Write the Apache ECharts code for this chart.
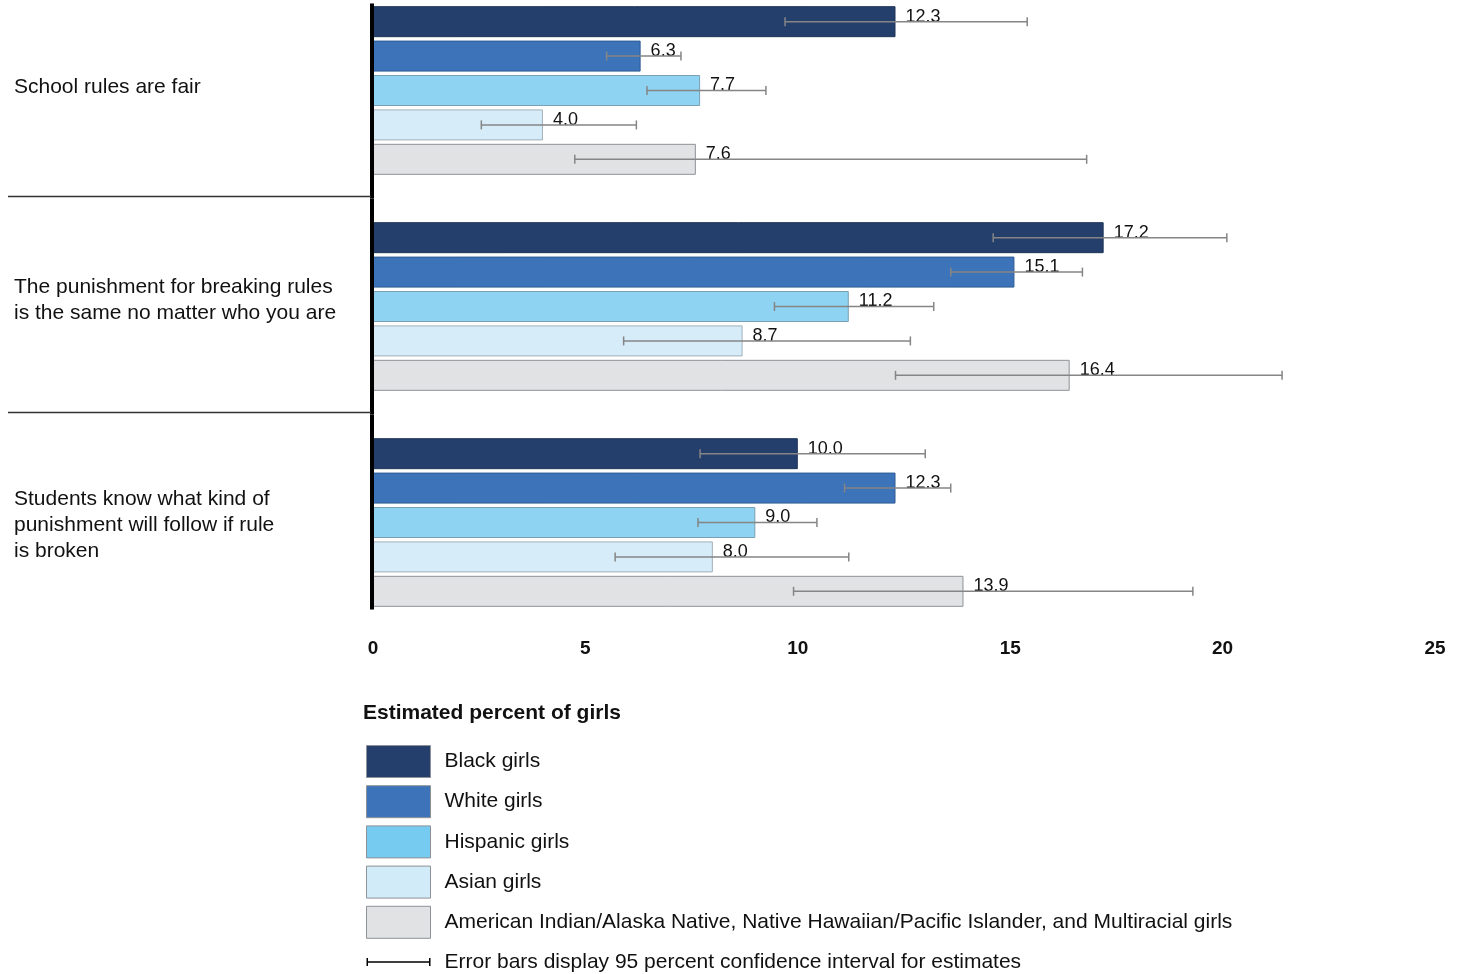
<!DOCTYPE html>
<html>
<head>
<meta charset="utf-8">
<script src="https://cdn.jsdelivr.net/npm/echarts@6/dist/echarts.min.js"></script>
<style>
html,body{margin:0;padding:0;background:#fff;}
#chart{width:1465px;height:974px;}
</style>
</head>
<body>
<div id="chart"></div>
<script>
// ---- data ----
var categories = [
  'School rules are fair',
  'The punishment for breaking rules\nis the same no matter who you are',
  'Students know what kind of\npunishment will follow if rule\nis broken'
];
var seriesNames = [
  'Black girls',
  'White girls',
  'Hispanic girls',
  'Asian girls',
  'American Indian/Alaska Native, Native Hawaiian/Pacific Islander, and Multiracial girls'
];
var blackGirls    = [12.3, 17.2, 10.0];
var whiteGirls    = [6.3, 15.1, 12.3];
var hispanicGirls = [7.7, 11.2, 9.0];
var asianGirls    = [4.0, 8.7, 8.0];
var otherGirls    = [7.6, 16.4, 13.9];

var blackLow    = [9.7, 14.6, 7.7];
var blackHigh   = [15.4, 20.1, 13.0];
var whiteLow    = [5.5, 13.6, 11.1];
var whiteHigh   = [7.25, 16.7, 13.6];
var hispanicLow = [6.45, 9.45, 7.65];
var hispanicHigh= [9.25, 13.2, 10.45];
var asianLow    = [2.55, 5.9, 5.7];
var asianHigh   = [6.2, 12.65, 11.2];
var otherLow    = [4.75, 12.3, 9.9];
var otherHigh   = [16.8, 21.4, 19.3];

var xTicks = [0, 5, 10, 15, 20, 25];
var legendTitle = 'Estimated percent of girls';
var errorBarName = 'Error bars display 95 percent confidence interval for estimates';

// ---- styles ----
var FONT = "'Liberation Sans', Arial, sans-serif";
var barColors    = ['#243F6B', '#3C73B9', '#8ED3F2', '#D6EDF9', '#E1E2E4'];
var legendColors = ['#243F6B', '#3C73B9', '#75CCF0', '#D2EBF8', '#E1E2E4'];
var borderColors = ['#1E3459', '#2F5C96', '#7A9FB3', '#A0AEB8', '#8E9196'];
var labelNudge = [-3.5, -6.5, 3];
var LABEL_X = 14;
var BAR_W = 31, BAR_GAP = 0.11;
var PITCH = BAR_W * (1 + BAR_GAP);

var values = [blackGirls, whiteGirls, hispanicGirls, asianGirls, otherGirls];
var lows   = [blackLow, whiteLow, hispanicLow, asianLow, otherLow];
var highs  = [blackHigh, whiteHigh, hispanicHigh, asianHigh, otherHigh];

var errData = [];
for (var c = 0; c < categories.length; c++) {
  for (var s = 0; s < values.length; s++) {
    errData.push([c, s, lows[s][c], highs[s][c]]);
  }
}

var series = [];
for (var i = 0; i < values.length; i++) {
  series.push({
    name: seriesNames[i],
    type: 'bar',
    data: values[i],
    barWidth: BAR_W,
    barGap: (BAR_GAP * 100) + '%',
    clip: false,
    itemStyle: { color: barColors[i], borderColor: borderColors[i], borderWidth: 1 },
    label: {
      show: true, position: 'right', distance: 10, offset: [0, -5],
      formatter: function (p) { return p.value.toFixed(1); },
      fontFamily: FONT, fontSize: 18, color: '#111'
    },
    z: 2
  });
}

// error bars
series.push({
  name: errorBarName,
  type: 'custom',
  data: errData,
  encode: { x: [2, 3], y: 0 },
  z: 5,
  clip: false,
  itemStyle: { color: '#000' },
  renderItem: function (params, api) {
    var cat = api.value(0), race = api.value(1), lo = api.value(2), hi = api.value(3);
    var p1 = api.coord([lo, cat]);
    var p2 = api.coord([hi, cat]);
    var y = p1[1] + (race - 2) * PITCH;
    var st = { stroke: '#858585', lineWidth: 1.5 };
    return {
      type: 'group',
      children: [
        { type: 'line', shape: { x1: p1[0], y1: y, x2: p2[0], y2: y }, style: st },
        { type: 'line', shape: { x1: p1[0], y1: y - 4.5, x2: p1[0], y2: y + 4.5 }, style: st },
        { type: 'line', shape: { x1: p2[0], y1: y - 4.5, x2: p2[0], y2: y + 4.5 }, style: st }
      ]
    };
  }
});

// axis line, group separators and category labels
series.push({
  name: '__axis',
  type: 'custom',
  data: categories.map(function (_, k) { return [0, k]; }),
  encode: { x: 0, y: 1 },
  z: 6,
  silent: true,
  clip: false,
  renderItem: function (params, api) {
    var k = api.value(1);
    var p = api.coord([0, k]);
    var band = api.size([0, 1])[1];
    var half = 2.5 * PITCH;
    var n = categories.length;
    var y1 = k === 0 ? p[1] - half - 1 : p[1] - band / 2;
    var y2 = k === n - 1 ? p[1] + half + 1 : p[1] + band / 2;
    var children = [
      { type: 'line', shape: { x1: p[0] - 1, y1: y1, x2: p[0] - 1, y2: y2 }, style: { stroke: '#000', lineWidth: 4 } },
      { type: 'text', x: LABEL_X, y: p[1] + labelNudge[k],
        style: { text: categories[k], align: 'left', verticalAlign: 'middle',
                 font: '21px ' + FONT, lineHeight: 26, fill: '#111' } }
    ];
    if (k > 0) {
      var ys = p[1] - band / 2 - 2;
      children.push({ type: 'line', shape: { x1: 8, y1: ys, x2: p[0] - 2, y2: ys }, style: { stroke: '#333', lineWidth: 1.5 } });
    }
    return { type: 'group', children: children };
  }
});

var legendData = seriesNames.map(function (n, k) {
  return { name: n, icon: 'rect', itemStyle: { color: legendColors[k], borderColor: '#8E9196', borderWidth: 1 } };
});
legendData.push({
  name: errorBarName,
  icon: 'path://M0,0h0.01v0.01h-0.01z M63.99,31.99h0.01v0.01h-0.01z M0,12h1.5v8h-1.5z M1.5,15.25h61v1.5h-61z M62.5,12h1.5v8h-1.5z',
  itemStyle: { color: '#000', borderWidth: 0 }
});

var chart = echarts.init(document.getElementById('chart'), null, { renderer: 'canvas' });
chart.setOption({
  animation: false,
  backgroundColor: '#fff',
  title: {
    text: legendTitle, left: 363, top: 703, padding: 0,
    textStyle: { fontFamily: FONT, fontSize: 21, fontWeight: 'bold', color: '#111' }
  },
  legend: {
    data: legendData,
    orient: 'vertical', left: 366, top: 745, height: 300, padding: 0,
    itemWidth: 64, itemHeight: 32, itemGap: 7.2,
    selectedMode: false,
    textStyle: { fontFamily: FONT, fontSize: 21, color: '#111', padding: [0, 0, 0, 9] }
  },
  grid: { left: 373, right: 30, top: 90.5, bottom: 451.5, containLabel: false, outerBoundsMode: 'none' },
  xAxis: {
    type: 'value', min: xTicks[0], max: xTicks[xTicks.length - 1], interval: xTicks[1] - xTicks[0],
    axisLine: { show: false }, axisTick: { show: false }, splitLine: { show: false },
    axisLabel: { fontFamily: FONT, fontSize: 19, fontWeight: 'bold', color: '#111', margin: 117 }
  },
  yAxis: {
    type: 'category', inverse: true, boundaryGap: false, data: categories,
    axisLine: { show: false }, axisTick: { show: false }, splitLine: { show: false },
    axisLabel: { show: false }
  },
  series: series
});
</script>
</body>
</html>
